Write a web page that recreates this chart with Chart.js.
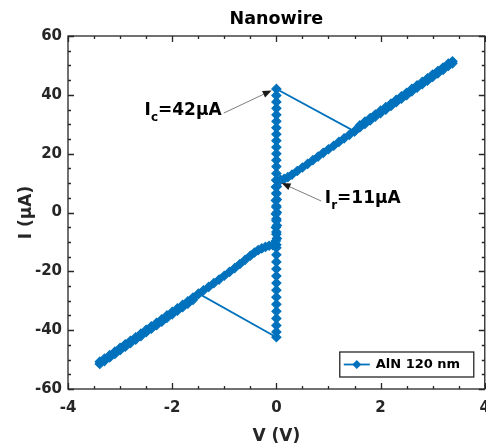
<!DOCTYPE html>
<html>
<head>
<meta charset="utf-8">
<script src="https://cdn.jsdelivr.net/npm/chart.js@4/dist/chart.umd.min.js"></script>
<style>
  html, body { margin: 0; padding: 0; background: #fff; overflow: hidden; }
  canvas { display: block; }
</style>
</head>
<body>
<canvas id="iv" width="500" height="447"></canvas>
<script>
// I–V sweep of the AlN 120 nm nanowire, in sweep order.
// Voltage in V, current in µA.

// resistive branch, negative side, sweeping up
const negUpV = [-3.39,-3.30,-3.20,-3.10,-3.00,-2.90,-2.80,-2.70,-2.60,-2.50,-2.40,-2.30,-2.20,-2.10,-2.00,-1.90,-1.80,-1.70,-1.60,-1.50,-1.40,-1.30,-1.20,-1.10,-1.00,-0.90,-0.80,-0.70,-0.60,-0.50,-0.42,-0.35,-0.28,-0.21,-0.14,-0.07,-0.02];
const negUpI = [-50.7,-49.7,-48.5,-47.3,-46.0,-44.8,-43.6,-42.4,-41.2,-39.9,-38.7,-37.5,-36.3,-35.0,-33.8,-32.6,-31.4,-30.2,-28.9,-27.7,-26.5,-25.3,-24.0,-22.8,-21.5,-20.2,-18.9,-17.5,-16.1,-14.7,-13.6,-12.8,-12.2,-11.7,-11.3,-11.1,-11.0];

// superconducting branch, sweeping up to the switching current
const zeroUpV = [0.00,0.01,0.00,0.01,0.00,0.01,0.00,0.01,0.00,0.01,0.00,0.00,0.00,0.00,0.00,0.00,0.00,0.00,0.00,0.00,0.00,0.00,0.00,0.00,0.00];
const zeroUpI = [-11.0,-8.8,-6.6,-4.4,-2.2,0.0,2.2,4.4,6.6,8.8,11.0,13.3,15.6,17.8,20.0,22.2,24.4,26.6,28.8,31.0,33.2,35.4,37.6,39.8,42.0];

// resistive branch, positive side, sweeping up after the switch
const posUpV = [1.50,1.60,1.70,1.80,1.90,2.00,2.10,2.20,2.30,2.40,2.50,2.60,2.70,2.80,2.90,3.00,3.10,3.20,3.30,3.38];
const posUpI = [27.6,29.6,30.9,32.1,33.3,34.6,35.8,37.0,38.3,39.5,40.7,42.0,43.2,44.4,45.6,46.9,48.1,49.3,50.6,51.4];

// resistive branch, positive side, sweeping down to retrapping
const posDownV = [3.38,3.30,3.20,3.10,3.00,2.90,2.80,2.70,2.60,2.50,2.40,2.30,2.20,2.10,2.00,1.90,1.80,1.70,1.60,1.50,1.40,1.30,1.20,1.10,1.00,0.90,0.80,0.70,0.60,0.50,0.40,0.30,0.22,0.15,0.08];
const posDownI = [50.7,49.8,48.5,47.3,46.1,44.8,43.6,42.4,41.2,39.9,38.7,37.5,36.2,35.0,33.8,32.6,31.3,30.1,28.9,27.6,26.4,25.2,24.0,22.7,21.5,20.3,19.0,17.8,16.5,15.3,14.1,12.9,12.0,11.4,11.1];

// superconducting branch, sweeping down to the negative switching current
const zeroDownV = [0.00,-0.01,0.00,-0.01,0.00,-0.01,0.00,-0.01,0.00,-0.01,0.00,0.00,0.00,0.00,0.00,0.00,0.00,0.00,0.00,0.00,0.00,0.00,0.00,0.00];
const zeroDownI = [11.0,8.7,6.4,4.1,1.8,-0.5,-2.8,-5.1,-7.4,-9.7,-12.0,-14.4,-16.8,-19.2,-21.6,-24.0,-26.4,-28.8,-31.2,-33.6,-36.0,-38.4,-40.6,-42.4];

// resistive branch, negative side, sweeping down after the switch
const negDownV = [-1.49,-1.60,-1.70,-1.80,-1.90,-2.00,-2.10,-2.20,-2.30,-2.40,-2.50,-2.60,-2.70,-2.80,-2.90,-3.00,-3.10,-3.20,-3.30,-3.39];
const negDownI = [-27.6,-29.7,-31.0,-32.2,-33.4,-34.6,-35.8,-37.1,-38.3,-39.5,-40.7,-42.0,-43.2,-44.4,-45.6,-46.8,-48.1,-49.3,-50.5,-51.5];

const seriesLabel = 'AlN 120 nm';
const xTicks = [-4, -2, 0, 2, 4];
const yTicks = [-60, -40, -20, 0, 20, 40, 60];

const AXIS = '#262626';
const BLUE = '#0072BD';
const FONT = "'DejaVu Sans', sans-serif";

const segments = [
  [negUpV, negUpI], [zeroUpV, zeroUpI], [posUpV, posUpI],
  [posDownV, posDownI], [zeroDownV, zeroDownI], [negDownV, negDownI]
];
const sweep = [];
segments.forEach(([vs, is]) => vs.forEach((v, k) => sweep.push({ x: v, y: is[k] })));

// box with inward major/minor ticks on all four sides
const boxTicks = {
  id: 'boxTicks',
  afterDraw(chart) {
    const { ctx, chartArea: a, scales: { x, y } } = chart;
    ctx.save();
    ctx.strokeStyle = AXIS;
    ctx.lineWidth = 1.3;
    ctx.strokeRect(a.left, a.top, a.right - a.left, a.bottom - a.top);
    ctx.beginPath();
    const xStep = 0.5, yStep = 5;
    for (let k = 0; x.min + k * xStep <= x.max + 1e-9; k++) {
      const v = x.min + k * xStep;
      const p = Math.round(x.getPixelForValue(v)) + 0.5;
      const L = xTicks.includes(v) ? 6 : 3;
      ctx.moveTo(p, a.bottom); ctx.lineTo(p, a.bottom - L);
      ctx.moveTo(p, a.top); ctx.lineTo(p, a.top + L);
    }
    for (let k = 0; y.min + k * yStep <= y.max + 1e-9; k++) {
      const v = y.min + k * yStep;
      const p = Math.round(y.getPixelForValue(v)) + 0.5;
      const L = yTicks.includes(v) ? 6 : 3;
      ctx.moveTo(a.left, p); ctx.lineTo(a.left + L, p);
      ctx.moveTo(a.right, p); ctx.lineTo(a.right - L, p);
    }
    ctx.stroke();
    ctx.restore();
  }
};

function diamond(ctx, cx, cy, r) {
  ctx.beginPath();
  ctx.moveTo(cx, cy - r); ctx.lineTo(cx + r, cy);
  ctx.lineTo(cx, cy + r); ctx.lineTo(cx - r, cy);
  ctx.closePath();
}

// boxed legend in the lower right corner of the plot
const cornerLegend = {
  id: 'cornerLegend',
  afterDraw(chart) {
    const { ctx, chartArea: a } = chart;
    const w = 134, h = 25;
    const left = a.right - 11 - w, top = a.bottom - 12 - h;
    ctx.save();
    ctx.fillStyle = '#fff';
    ctx.fillRect(left, top, w, h);
    ctx.strokeStyle = AXIS;
    ctx.lineWidth = 1.3;
    ctx.strokeRect(left, top, w, h);
    const cy = top + h / 2;
    ctx.strokeStyle = BLUE;
    ctx.lineWidth = 1.8;
    ctx.beginPath(); ctx.moveTo(left + 4, cy); ctx.lineTo(left + 30, cy); ctx.stroke();
    ctx.fillStyle = BLUE;
    diamond(ctx, left + 17, cy, 4.5); ctx.fill();
    ctx.fillStyle = '#000';
    ctx.font = 'bold 13px ' + FONT;
    ctx.textBaseline = 'middle';
    ctx.fillText(chart.data.datasets[0].label, left + 36, cy + 0.5);
    ctx.restore();
  }
};

// callouts for the switching and retrapping currents
const callouts = [
  { main: 'I', sub: 'c', rest: '=42\u03BCA', text: [-2.53, 33.1], tail: [-1.01, 33.8], tip: [-0.09, 41.5] },
  { main: 'I', sub: 'r', rest: '=11\u03BCA', text: [0.93, 3.2], tail: [0.86, 3.9], tip: [0.10, 10.0] }
];
const calloutPlugin = {
  id: 'callouts',
  afterDraw(chart) {
    const { ctx, scales: { x, y } } = chart;
    ctx.save();
    callouts.forEach(c => {
      const tx = x.getPixelForValue(c.tail[0]), ty = y.getPixelForValue(c.tail[1]);
      const hx = x.getPixelForValue(c.tip[0]), hy = y.getPixelForValue(c.tip[1]);
      const ang = Math.atan2(hy - ty, hx - tx);
      const len = 9, half = 3.5;
      const bx = hx - len * Math.cos(ang), by = hy - len * Math.sin(ang);
      ctx.strokeStyle = '#6e6e6e';
      ctx.lineWidth = 0.9;
      ctx.beginPath(); ctx.moveTo(tx, ty); ctx.lineTo(bx, by); ctx.stroke();
      ctx.fillStyle = '#1a1a1a';
      ctx.beginPath();
      ctx.moveTo(hx, hy);
      ctx.lineTo(bx + half * Math.sin(ang), by - half * Math.cos(ang));
      ctx.lineTo(bx - half * Math.sin(ang), by + half * Math.cos(ang));
      ctx.closePath(); ctx.fill();

      let px = x.getPixelForValue(c.text[0]);
      const py = y.getPixelForValue(c.text[1]);
      ctx.fillStyle = '#000';
      ctx.textBaseline = 'alphabetic';
      ctx.font = 'bold 17px ' + FONT;
      ctx.fillText(c.main, px, py);
      px += ctx.measureText(c.main).width;
      ctx.font = 'bold 12px ' + FONT;
      ctx.fillText(c.sub, px, py + 6);
      px += ctx.measureText(c.sub).width;
      ctx.font = 'bold 17px ' + FONT;
      ctx.fillText(c.rest, px, py);
    });
    ctx.restore();
  }
};

new Chart(document.getElementById('iv'), {
  type: 'scatter',
  data: {
    datasets: [{
      label: seriesLabel,
      data: sweep,
      showLine: true,
      borderColor: BLUE,
      borderWidth: 1.8,
      pointStyle: 'rectRot',
      pointRadius: 4.5,
      pointBorderWidth: 1.2,
      pointBackgroundColor: BLUE,
      pointBorderColor: BLUE,
      tension: 0,
      clip: false
    }]
  },
  options: {
    responsive: false,
    animation: false,
    devicePixelRatio: 1,
    layout: { padding: { left: 0, right: 12, top: 0, bottom: 0 } },
    scales: {
      x: {
        type: 'linear', min: -4, max: 4,
        afterBuildTicks(s) { s.ticks = xTicks.map(v => ({ value: v })); },
        ticks: { font: { family: FONT, size: 15, weight: 'bold' }, color: AXIS, padding: 10, maxRotation: 0 },
        grid: { display: false, drawTicks: false },
        border: { display: false },
        title: { display: true, text: 'V (V)', color: AXIS, font: { family: FONT, size: 17, weight: 'bold' }, padding: { top: 0, bottom: 0 } },
        afterFit(s) { s.height = 58; }
      },
      y: {
        type: 'linear', min: -60, max: 60,
        afterBuildTicks(s) { s.ticks = yTicks.map(v => ({ value: v })); },
        ticks: { font: { family: FONT, size: 15, weight: 'bold' }, color: AXIS, padding: 6 },
        grid: { display: false, drawTicks: false },
        border: { display: false },
        title: { display: true, text: 'I (\u03BCA)', color: AXIS, font: { family: FONT, size: 17, weight: 'bold' }, padding: { top: 16, bottom: 0 } },
        afterFit(s) { s.width = 68; }
      }
    },
    plugins: {
      title: {
        display: true, text: 'Nanowire', fullSize: false, color: '#000',
        font: { family: FONT, size: 17.5, weight: 'bold' },
        padding: { top: 9, bottom: 6 }
      },
      legend: { display: false },
      tooltip: { enabled: false }
    }
  },
  plugins: [boxTicks, cornerLegend, calloutPlugin]
});
</script>
</body>
</html>
